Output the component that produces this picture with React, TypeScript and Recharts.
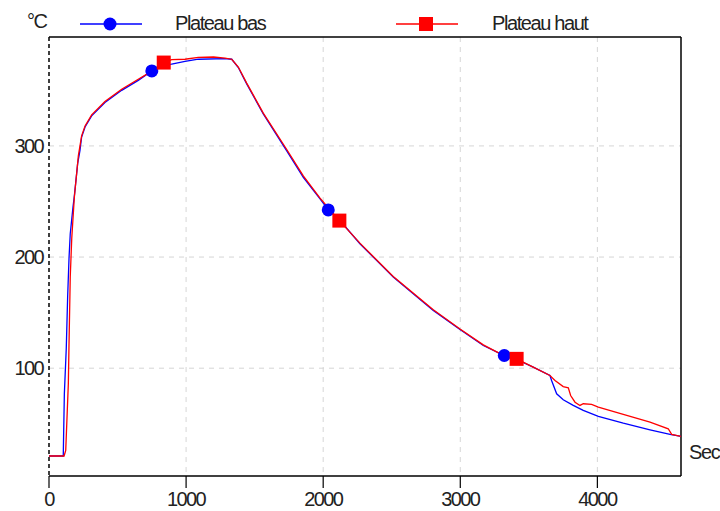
import { CartesianGrid, ComposedChart, Line, ReferenceLine, Scatter, XAxis, YAxis } from 'recharts';

// Plateau bas (blue)
const basTime = [0, 104, 112, 126, 136, 146, 155, 175, 185, 209, 226, 238, 263, 311, 408, 530, 651, 750, 895, 992, 1089, 1284, 1333, 1381, 1442, 1563, 1733, 1855, 1977, 2037, 2118, 2268, 2511, 2803, 2998, 3168, 3321, 3411, 3532, 3654, 3666, 3703, 3751, 3824, 3897, 4007, 4189, 4384, 4530, 4610];
const basTemp = [21, 21, 77, 118, 164, 199, 221, 245, 255, 284, 296, 308, 317, 327, 339, 350, 359, 367.5, 373.7, 376, 378, 378.5, 378, 370.5, 355.8, 328.8, 295.8, 271.8, 252.3, 242.4, 233.5, 212, 182, 152, 134.8, 120.4, 111.4, 107.8, 100.9, 93.4, 89, 77, 71.6, 66.5, 62, 56.6, 50.5, 44.6, 40.4, 38.6];

// Plateau haut (red)
const hautTime = [0, 110, 122, 141, 146, 155, 166, 185, 204, 214, 238, 263, 311, 408, 530, 651, 760, 837, 895, 992, 1089, 1200, 1284, 1333, 1381, 1442, 1563, 1733, 1855, 1977, 2118, 2268, 2511, 2803, 2998, 3168, 3300, 3411, 3532, 3654, 3691, 3751, 3788, 3805, 3837, 3873, 3897, 3958, 4007, 4189, 4384, 4517, 4542, 4610];
const hautTemp = [21, 21, 26, 86, 122, 182, 217, 254, 278, 291, 309, 318, 328, 340, 351, 360, 368, 375, 377.6, 378, 379.7, 380, 379, 378, 371, 356.5, 329.5, 297, 273, 253, 232.8, 212.5, 182.5, 152.5, 135.3, 121, 112.5, 108.4, 101, 93.4, 89, 83.5, 82.4, 75.4, 69.4, 66.5, 68, 67.4, 65, 58.4, 51.4, 45.5, 40.4, 38.6];

// marker positions on each curve
const basMarkTime = [750, 2037, 3321];
const basMarkTemp = [367.5, 242.4, 111.4];
const hautMarkTime = [837, 2118, 3411];
const hautMarkTemp = [375, 232.8, 108.4];

const xTicks = [0, 1000, 2000, 3000, 4000];
const yTicks = [100, 200, 300];
const xMax = 4610;
const yMin = 3;
const yMax = 398;

const BLUE = '#0000ff';
const RED = '#ff0000';
const TXT = '#222';
const FONT = '"Liberation Sans", Arial, sans-serif';

const zip = (t: number[], v: number[]) => t.map((x, i) => ({ t: x, v: v[i] }));
const basData = zip(basTime, basTemp);
const hautData = zip(hautTime, hautTemp);
const basMarks = zip(basMarkTime, basMarkTemp);
const hautMarks = zip(hautMarkTime, hautMarkTemp);

const tickStyle = { fill: TXT, fontSize: 20, fontFamily: FONT, letterSpacing: -1.6 };

function LegendBox() {
  const textStyle = { fontSize: 20, fontFamily: FONT, letterSpacing: -1.4, fill: TXT };
  return (
    <svg width={720} height={36} style={{ position: 'absolute', left: 0, top: 0 }}>
      <text x={27} y={28} {...textStyle}>°C</text>
      <line x1={80} y1={24} x2={142} y2={24} stroke={BLUE} strokeWidth={1.3} />
      <circle cx={110} cy={24} r={6.5} fill={BLUE} />
      <text x={175} y={30} {...textStyle}>Plateau bas</text>
      <line x1={396} y1={24} x2={458} y2={24} stroke={RED} strokeWidth={1.3} />
      <rect x={419} y={17} width={14} height={14} fill={RED} />
      <text x={492} y={30} {...textStyle}>Plateau haut</text>
    </svg>
  );
}

export default function App() {
  return (
    <div style={{ position: 'absolute', left: 0, top: 0, width: 720, height: 511, background: '#fff' }}>
      <ComposedChart width={720} height={511} margin={{ top: 37, right: 39, bottom: 0, left: 0 }}>
        <CartesianGrid
          stroke="#d6d6d6"
          strokeDasharray="5 5"
          verticalValues={[1000, 2000, 3000, 4000]}
          horizontalValues={yTicks}
        />
        <XAxis
          type="number"
          dataKey="t"
          domain={[0, xMax]}
          ticks={xTicks}
          allowDataOverflow
          height={35}
          tickSize={12}
          tickMargin={4}
          tick={tickStyle}
          axisLine={{ stroke: '#000', strokeWidth: 1.5 }}
          tickLine={{ stroke: '#000', strokeWidth: 1.2 }}
        />
        <YAxis
          type="number"
          dataKey="v"
          domain={[yMin, yMax]}
          ticks={yTicks}
          allowDataOverflow
          width={49}
          tickSize={0}
          tickMargin={6}
          tick={tickStyle}
          tickLine={false}
          axisLine={{ stroke: '#000', strokeWidth: 1.5, strokeDasharray: '4 3' }}
        />
        <ReferenceLine y={yMax} stroke="#000" strokeWidth={1.5} />
        <ReferenceLine x={xMax} stroke="#000" strokeWidth={1.5} />
        <Line data={basData} dataKey="v" type="linear" stroke={BLUE} strokeWidth={1.3} dot={false} activeDot={false} isAnimationActive={false} />
        <Line data={hautData} dataKey="v" type="linear" stroke={RED} strokeWidth={1.3} dot={false} activeDot={false} isAnimationActive={false} />
        <Scatter
          data={basMarks}
          dataKey="v"
          isAnimationActive={false}
          shape={(p: any) => <circle cx={p.cx} cy={p.cy} r={6.5} fill={BLUE} />}
        />
        <Scatter
          data={hautMarks}
          dataKey="v"
          isAnimationActive={false}
          shape={(p: any) => <rect x={p.cx - 7} y={p.cy - 7} width={14} height={14} fill={RED} />}
        />
      </ComposedChart>
      <LegendBox />
      <div style={{ position: 'absolute', left: 689, top: 441, fontFamily: FONT, fontSize: 20, letterSpacing: -1.4, color: TXT }}>
        Sec
      </div>
    </div>
  );
}
